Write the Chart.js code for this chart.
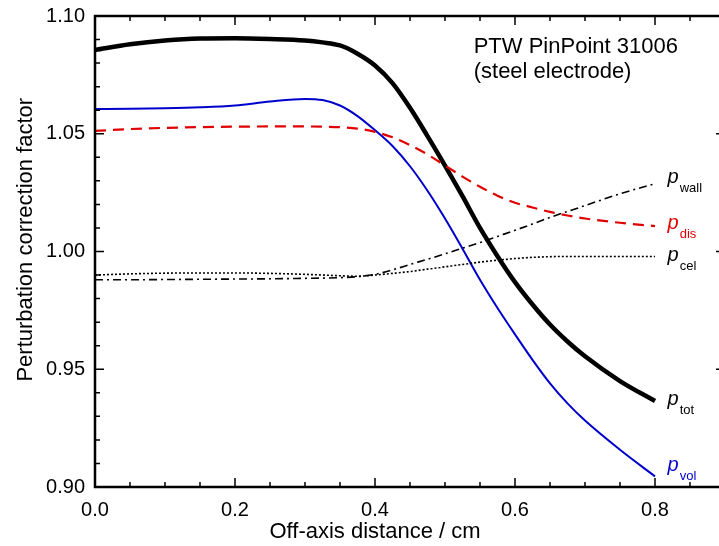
<!DOCTYPE html>
<html>
<head>
<meta charset="utf-8">
<script src="https://cdn.jsdelivr.net/npm/chart.js@4.4.1/dist/chart.umd.min.js"></script>
<style>
  html, body { margin: 0; padding: 0; background: #fff; overflow: hidden; }
  #wrap { width: 736px; height: 546px; }
</style>
</head>
<body>
<div id="wrap"><canvas id="chart" width="736" height="546"></canvas></div>
<script>
// off-axis distance (cm)
const xs = [0, 0.05, 0.1, 0.15, 0.2, 0.25, 0.3, 0.325, 0.35, 0.375, 0.4, 0.425,
  0.45, 0.475, 0.5, 0.525, 0.55, 0.575, 0.6, 0.625, 0.65, 0.675, 0.7, 0.75, 0.8];

const pTot = [1.0856, 1.0880, 1.0896, 1.0904, 1.0905, 1.0902, 1.0896, 1.0888, 1.0875, 1.0840, 1.0790, 1.0715,
  1.0610, 1.0490, 1.0365, 1.0235, 1.0100, 0.9980, 0.9870, 0.9775, 0.9690, 0.9618, 0.9555, 0.9450, 0.9365];
const pVol = [1.0605, 1.0606, 1.0608, 1.0612, 1.0620, 1.0637, 1.0648, 1.0643, 1.0620, 1.0575, 1.0515, 1.0448,
  1.0362, 1.0258, 1.0140, 1.0012, 0.9880, 0.9760, 0.9648, 0.9540, 0.9440, 0.9355, 0.9282, 0.9158, 0.9045];
const pDis = [1.0512, 1.0520, 1.0525, 1.0528, 1.0530, 1.0531, 1.0531, 1.0530, 1.0528, 1.0522, 1.0508, 1.0485,
  1.0452, 1.0412, 1.0365, 1.0318, 1.0275, 1.0237, 1.0207, 1.0187, 1.0168, 1.0153, 1.0140, 1.0122, 1.0108];
const pCel = [0.9900, 0.9905, 0.9908, 0.9909, 0.9909, 0.9907, 0.9903, 0.9900, 0.9897, 0.9895, 0.9900, 0.9907,
  0.9915, 0.9925, 0.9935, 0.9945, 0.9955, 0.9963, 0.9970, 0.9975, 0.9978, 0.9979, 0.9979, 0.9979, 0.9979];
const pWall = [0.9880, 0.9880, 0.9881, 0.9882, 0.9883, 0.9884, 0.9886, 0.9887, 0.9889, 0.9893, 0.9903, 0.9922,
  0.9945, 0.9967, 0.9990, 1.0014, 1.0038, 1.0064, 1.0090, 1.0117, 1.0145, 1.0170, 1.0195, 1.0245, 1.0288];

// curve labels: subscript, value where the label sits, colour
const curveLabels = [
  { sub: 'wall', y: 1.031, color: '#000' },
  { sub: 'dis', y: 1.0115, color: '#e00000' },
  { sub: 'cel', y: 0.998, color: '#000' },
  { sub: 'tot', y: 0.937, color: '#000' },
  { sub: 'vol', y: 0.909, color: '#0000cc' },
];
const labelX = 0.818;

const FONT = '"Liberation Sans", Arial, Helvetica, sans-serif';

function pts(ys) {
  return xs.map((x, i) => ({ x, y: ys[i] }));
}

function series(label, data, color, width, dash) {
  return {
    label,
    data: pts(data),
    borderColor: color,
    borderWidth: width,
    borderDash: dash || [],
    pointRadius: 0,
    fill: false,
    cubicInterpolationMode: 'monotone',
  };
}

// frame with inward ticks on all four sides, axis titles, notes
const framePlugin = {
  id: 'frame',
  afterDatasetsDraw(chart) {
    const { ctx, chartArea: a, scales } = chart;
    const sx = scales.x, sy = scales.y;
    ctx.save();
    ctx.strokeStyle = '#000';
    ctx.lineWidth = 1.5;
    ctx.beginPath();
    for (let i = 0; i <= 18; i++) {
      const px = sx.getPixelForValue(i * 0.05);
      const len = i % 4 === 0 ? 9 : 5;
      ctx.moveTo(px, a.bottom); ctx.lineTo(px, a.bottom - len);
      ctx.moveTo(px, a.top); ctx.lineTo(px, a.top + len);
    }
    for (let i = 0; i <= 20; i++) {
      const py = sy.getPixelForValue(0.90 + i * 0.01);
      const len = i % 5 === 0 ? 9 : 5;
      ctx.moveTo(a.left, py); ctx.lineTo(a.left + len, py);
      ctx.moveTo(a.right, py); ctx.lineTo(a.right - len, py);
    }
    ctx.stroke();
    ctx.lineWidth = 2.5;
    ctx.strokeRect(a.left, a.top, a.right - a.left, a.bottom - a.top);

    // curve labels
    const lx = sx.getPixelForValue(labelX);
    curveLabels.forEach(l => {
      const py = sy.getPixelForValue(l.y) + 5;
      ctx.fillStyle = l.color;
      ctx.textBaseline = 'alphabetic';
      ctx.textAlign = 'left';
      ctx.font = 'italic 20px ' + FONT;
      ctx.fillText('p', lx, py);
      const w = ctx.measureText('p').width;
      ctx.font = '13px ' + FONT;
      ctx.fillText(l.sub, lx + w + 1, py + 9);
    });

    // chamber note
    ctx.fillStyle = '#000';
    ctx.font = '22px ' + FONT;
    const nx = sx.getPixelForValue(0.541);
    ctx.fillText('PTW PinPoint 31006', nx, sy.getPixelForValue(1.0842));
    ctx.fillText('(steel electrode)', nx, sy.getPixelForValue(1.0736));

    // axis titles
    ctx.textAlign = 'center';
    ctx.fillText('Off-axis distance / cm', sx.getPixelForValue(0.40), 538);
    ctx.translate(32, sy.getPixelForValue(1.005));
    ctx.rotate(-Math.PI / 2);
    ctx.fillText('Perturbation correction factor', 0, 0);
    ctx.restore();
  },
};

new Chart(document.getElementById('chart'), {
  type: 'line',
  data: {
    datasets: [
      series('p_wall', pWall, '#000', 1.6, [8, 4, 2, 4]),
      series('p_cel', pCel, '#000', 1.6, [2, 2]),
      series('p_dis', pDis, '#e00000', 2.2, [11, 7]),
      series('p_vol', pVol, '#0000cc', 2, []),
      series('p_tot', pTot, '#000', 4.5, []),
    ],
  },
  options: {
    responsive: false,
    animation: false,
    events: [],
    layout: { padding: { top: 16, right: 5, left: 0, bottom: 0 } },
    plugins: { legend: { display: false }, tooltip: { enabled: false } },
    scales: {
      x: {
        type: 'linear',
        min: 0,
        max: 0.9,
        afterFit(scale) { scale.height = 59; },
        grid: { display: false, drawTicks: false },
        border: { display: false },
        ticks: {
          stepSize: 0.2,
          padding: 11,
          color: '#000',
          font: { family: FONT, size: 20 },
          callback: v => (v > 0.81 ? '' : v.toFixed(1)),
        },
      },
      y: {
        type: 'linear',
        min: 0.90,
        max: 1.10,
        afterFit(scale) {
          scale.width = 95;
          scale.paddingTop = 0;
          scale.paddingBottom = 0;
        },
        grid: { display: false, drawTicks: false },
        border: { display: false },
        ticks: {
          stepSize: 0.05,
          padding: 10,
          color: '#000',
          font: { family: FONT, size: 20 },
          callback: v => v.toFixed(2),
        },
      },
    },
  },
  plugins: [framePlugin],
});
</script>
</body>
</html>
